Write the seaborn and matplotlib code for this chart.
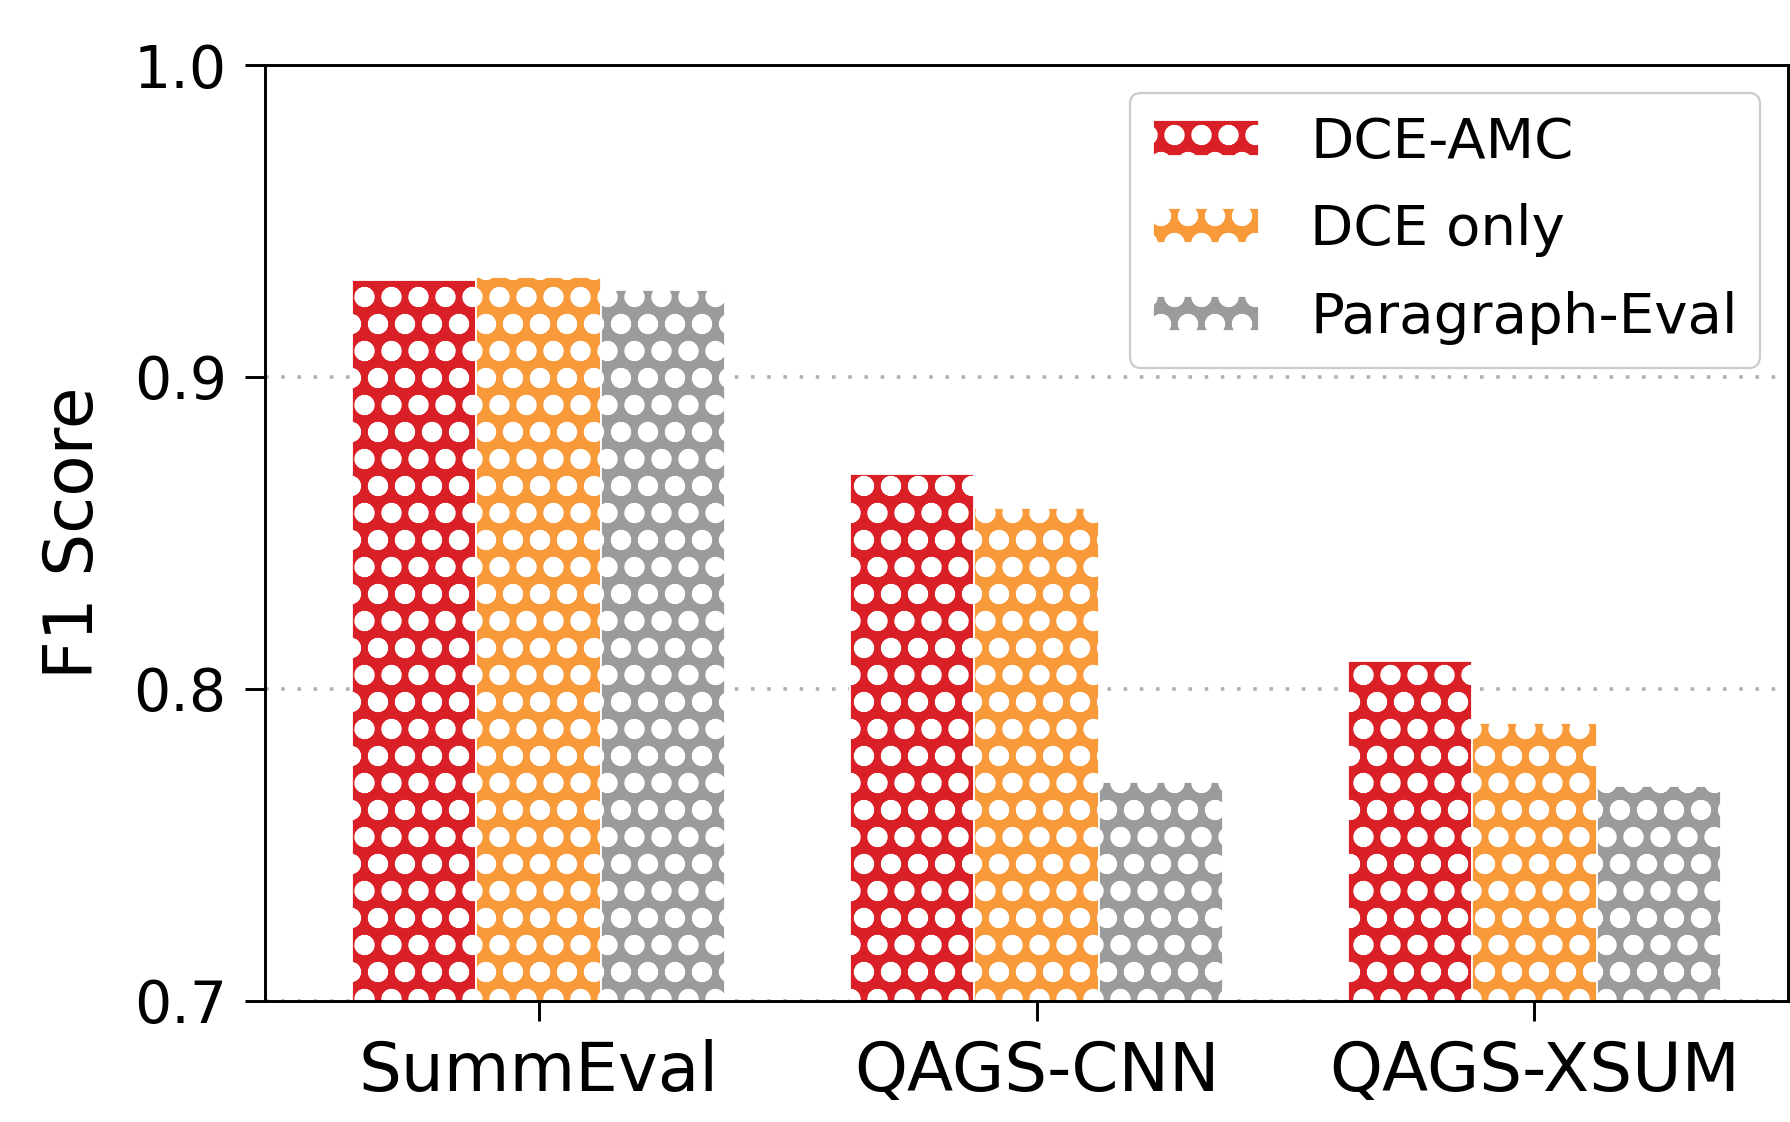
import pandas as pd
import seaborn as sns
import matplotlib.pyplot as plt

# values
datasets = ['SummEval', 'QAGS-CNN', 'QAGS-XSUM']
methods = ['DCE-AMC', 'DCE only', 'Paragraph-Eval']
dce_amc = [0.931, 0.869, 0.809]
dce_only = [0.932, 0.858, 0.789]
paragraph_eval = [0.928, 0.770, 0.769]
colors = ['#d92027', '#f89a3a', '#9b9b9b']

DPI = 162

if __name__ == '__main__':

    df = pd.DataFrame({
        'Dataset': datasets * 3,
        'Method': [m for m in methods for _ in datasets],
        'F1': dce_amc + dce_only + paragraph_eval,
    })

    sns.set_style('ticks')
    plt.rcParams['font.family'] = ['DejaVu Sans']
    plt.rcParams['text.color'] = 'black'
    plt.rcParams['axes.labelcolor'] = 'black'
    plt.rcParams['xtick.color'] = 'black'
    plt.rcParams['ytick.color'] = 'black'
    plt.rcParams['hatch.color'] = 'white'
    plt.rcParams['hatch.linewidth'] = 4.2

    fig = plt.figure(figsize=(1790 / DPI, 1122 / DPI), dpi=DPI)
    ax = fig.add_axes([0.148, 0.108, 0.851, 0.834])

    sns.barplot(x='Dataset', y='F1', hue='Method', data=df, order=datasets,
                hue_order=methods, palette=colors, width=0.75,
                edgecolor='white', linewidth=0.8, saturation=1, ax=ax)

    for cont in ax.containers:
        for bar in cont:
            bar.set_hatch('o')

    ax.set_ylim(0.7, 1.0)
    ax.set_xlim(-0.55, 2.51)
    ax.set_yticks([0.7, 0.8, 0.9, 1.0])
    ax.set_yticklabels(['0.7', '0.8', '0.9', '1.0'])
    ax.yaxis.grid(True, linestyle=(0, (1, 3.5)), color='#b0b0b0', linewidth=1.6)
    ax.set_axisbelow(True)

    ax.set_xlabel('')
    ax.set_ylabel('F1 Score', fontsize=30, labelpad=12)
    ax.tick_params(axis='y', labelsize=26, length=9, width=1.3, pad=8)
    ax.tick_params(axis='x', labelsize=30, length=9, width=1.3, pad=8)
    for sp in ax.spines.values():
        sp.set_linewidth(1.3)
        sp.set_color('black')

    ax.get_legend().remove()
    handles = [c.patches[0] for c in ax.containers]
    ax.legend(handles, methods, loc='upper right', fontsize=25,
              labelspacing=0.6, handlelength=1.9, handleheight=0.6,
              handletextpad=0.9, frameon=True, fancybox=True,
              edgecolor='#cccccc', framealpha=1)

    fig.savefig('out.png', dpi=DPI)
